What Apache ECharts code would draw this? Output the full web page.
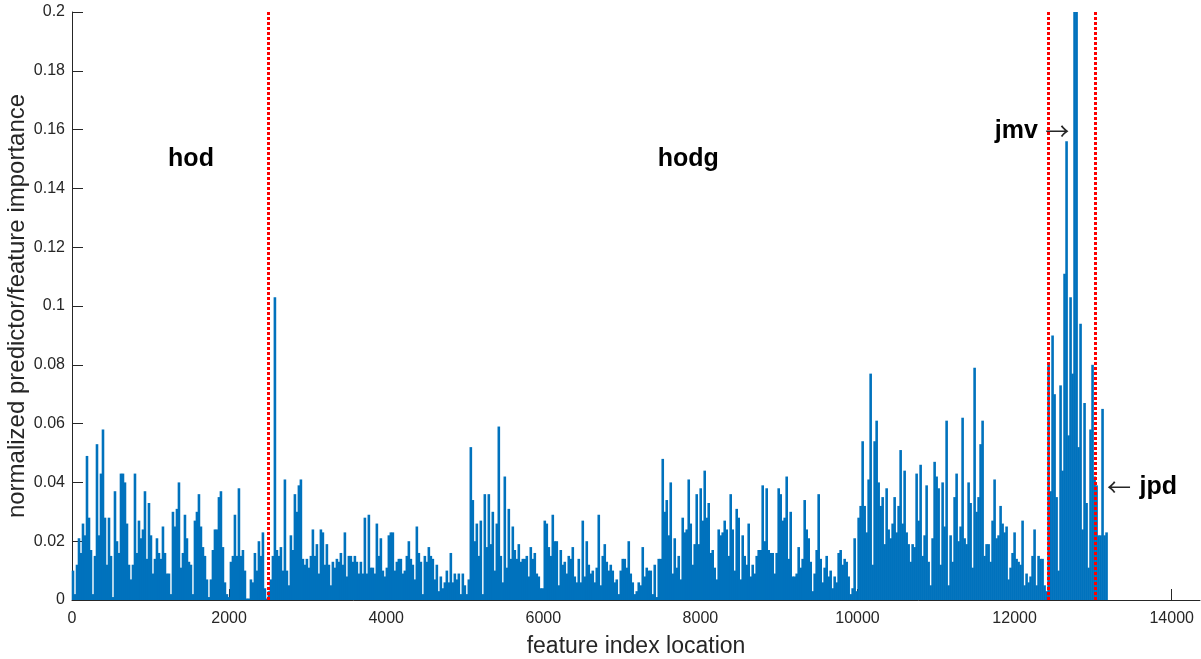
<!DOCTYPE html>
<html>
<head>
<meta charset="utf-8">
<script src="https://cdn.jsdelivr.net/npm/echarts@6/dist/echarts.min.js"></script>
<style>
  html, body { margin: 0; padding: 0; background: #ffffff; }
  #chart { width: 1201px; height: 659px; }
</style>
</head>
<body>
<div id="chart"></div>
<script>
// Each drawn bar stands for a run of BIN_SIZE neighbouring features and shows their peak importance.
const BIN_SIZE = 25.45;

// Peak normalized importance per bar, in thousandths, grouped by feature block.
const hodImportance = [
  10, 2, 12, 21, 16, 26, 22, 49, 28, 17,  2, 15, 53, 22, 43, 58, 28, 12, 28, 15,
   1, 37, 20, 16, 43, 43, 40, 26, 12,  7, 12, 43, 16, 27, 21, 24, 37, 14, 33, 22,
   9, 14, 21, 16, 14, 25, 16,  9,
   9,  2, 30, 25, 31, 40, 11, 16, 29, 21, 13, 12,  2, 27, 30, 36, 25, 18, 15,  7,
   1,  7, 17, 24, 24, 35, 37, 18,  6,  2,  1, 13, 15, 29, 15, 38, 15, 17, 10, 0.5,
 0.5,  7,  6, 16, 10, 20, 15, 23,  4,  0.5
];
const hodgImportance = [
   3,  7, 15, 103, 17, 15, 18, 10, 41, 10,  5, 22, 17, 36, 30, 39, 41, 14, 12, 14,
  11, 15, 24, 15, 19,  9, 24, 23, 12, 19, 12,  5, 13, 11, 14, 13, 16, 12, 23,  8,
  15, 15, 13, 15, 13,  9, 13,  9, 28,  9,
  29, 11, 11,  9, 26, 15, 21, 10,  8, 11, 22, 23, 23, 10, 13, 14, 14,  9, 10, 15,
  20, 14, 12,  7, 25, 16, 13,  2, 15, 13, 18, 15, 14,  7, 12,  3,  8,  4,  6, 10,
   6, 16,  6,  9,  7,  9,  2,  9,  5,  2,
   7, 52, 34, 20, 26, 15, 27,  2, 36, 18, 36, 19, 30, 10, 26, 59, 15,  6, 42, 11,
  31, 14, 25, 17, 14, 19, 13, 14, 14, 15,  8, 18, 14, 16,  9,  8,  4,  4, 27, 26,
  18, 15, 29, 20, 20,  5, 17, 12, 13,  9,
  15, 14, 18,  8,  6, 14,  6, 27,  8, 20, 12,  9, 10,  6, 11, 29,  5, 15, 19, 13,
  10, 12, 10,  6,  7,  2, 10, 14, 14, 11, 20,  9,  6,  2,  3,  6,  5, 18,  8, 11,
  10, 10,  2, 12,  1, 14, 14, 48, 30, 34,
  22, 40,  9, 21, 11, 15,  7, 28, 23, 24, 41, 26, 12, 19, 36, 19, 38, 27, 44, 28,
  33, 16, 17, 11,  7, 24, 22, 23, 27, 24, 15, 36, 24, 10, 31, 28,  7, 22, 15, 12,
  26,  8, 12,  9, 15, 17, 17, 39, 20, 38,
  17, 16, 16,  9, 16, 38, 36, 27, 28, 42, 14, 30,  8,  8,  9, 18, 11, 14, 34, 24,
  21, 13,  3,  9, 17, 36, 14,  6, 11, 15,  8, 10,  4,  8,  6, 16, 17, 12, 14, 13,
   8,  2,  4, 21,  3, 28, 32, 54, 32, 23,
  41, 77, 12, 54, 61, 40, 32, 35, 19, 38, 24, 21, 26, 35, 23, 32, 51, 26, 44, 23,
  19, 13, 19, 18, 43, 27, 46, 15, 22, 39, 13,  5, 21, 47, 42, 38, 12, 40, 25, 61,
   5, 22, 13, 35, 43, 20, 25, 62, 21, 19,
  40, 33, 11, 79, 30, 35, 53, 61, 15, 19, 19, 13, 27, 41, 21, 22, 32, 26, 23, 25,
   7, 11, 16, 23, 14, 13, 12, 27,  5,  9,  6,  8, 15, 24,  5, 15, 14, 14,  5,  3
];
const jmvImportance = [
  80, 37, 90, 70, 35, 10, 73, 44, 111, 156, 56, 103, 77, 210, 210, 52, 94, 24, 67, 33,
  11, 58, 80, 42
];
const jpdImportance = [39, 22, 22, 65, 22, 23];

// Feature indices where one descriptor block ends and the next begins.
const blockBoundaries = [2495, 12422, 13027];

// Tick positions.
const xTicks = [0, 2000, 4000, 6000, 8000, 10000, 12000, 14000];
const yTicks = [0, 0.02, 0.04, 0.06, 0.08, 0.1, 0.12, 0.14, 0.16, 0.18, 0.2];

const allImportance = [].concat(hodImportance, hodgImportance, jmvImportance, jpdImportance);
const barData = allImportance.map((v, i) => [(i + 0.5) * BIN_SIZE, v / 1000]);

const FONT = '"Liberation Sans", Arial, Helvetica, sans-serif';
const ARROW_FONT = '"Noto Sans CJK SC", "DejaVu Sans", sans-serif';
const AXIS_COLOR = '#262626';

const chart = echarts.init(document.getElementById('chart'), null, { renderer: 'canvas' });

const option = {
  animation: false,
  backgroundColor: '#ffffff',
  grid: { left: 72, right: 1, top: 12, bottom: 59, containLabel: false, outerBoundsMode: 'none' },
  xAxis: {
    type: 'value',
    min: 0,
    max: 14360,
    interval: 2000,
    name: 'feature index location',
    nameLocation: 'middle',
    nameGap: 35,
    nameTextStyle: { fontFamily: FONT, fontSize: 23, color: AXIS_COLOR },
    axisLine: { show: true, onZero: false, lineStyle: { color: AXIS_COLOR, width: 1 } },
    axisTick: { show: true, inside: true, length: 11, customValues: xTicks, lineStyle: { color: AXIS_COLOR } },
    axisLabel: {
      customValues: xTicks,
      margin: 11,
      fontFamily: FONT, fontSize: 16, color: AXIS_COLOR,
      formatter: v => String(v)
    },
    splitLine: { show: false }
  },
  yAxis: {
    type: 'value',
    min: 0,
    max: 0.2,
    interval: 0.02,
    name: 'normalized predictor/feature importance',
    nameLocation: 'middle',
    nameGap: 43,
    nameMoveOverlap: false,
    nameTextStyle: { fontFamily: FONT, fontSize: 24, color: AXIS_COLOR },
    axisLine: { show: true, lineStyle: { color: AXIS_COLOR, width: 1 } },
    axisTick: { show: true, inside: true, length: 11, customValues: yTicks, lineStyle: { color: AXIS_COLOR } },
    axisLabel: {
      customValues: yTicks,
      margin: 7,
      fontFamily: FONT, fontSize: 16, color: AXIS_COLOR,
      formatter: v => String(v)
    },
    splitLine: { show: false }
  },
  series: [{
    type: 'bar',
    data: barData,
    barMinWidth: 2.6,
    clip: true,
    itemStyle: { color: '#0072BD' },
    emphasis: { disabled: true },
    markLine: {
      silent: true,
      symbol: 'none',
      label: { show: false },
      lineStyle: { color: '#FF0000', width: 3, type: [3, 2] },
      data: blockBoundaries.map(b => ({ xAxis: b }))
    }
  }]
};

chart.setOption(option);

// Block names placed in data space.
const toPx = (x, y) => chart.convertToPixel({ gridIndex: 0 }, [x, y]);
const boldText = (text, x, y, align) => {
  const p = toPx(x, y);
  return {
    type: 'text', x: p[0], y: p[1], silent: true,
    style: { text, fontFamily: FONT, fontSize: 25, fontWeight: 'bold', fill: '#000000', align, verticalAlign: 'middle' }
  };
};
const arrowText = (text, x, y) => {
  const p = toPx(x, y);
  return {
    type: 'text', x: p[0], y: p[1], silent: true,
    style: { text, fontFamily: ARROW_FONT, fontSize: 24, fontWeight: 'normal', fill: '#262626', align: 'left', verticalAlign: 'middle' }
  };
};

chart.setOption({
  graphic: [
    boldText('hod', 1515, 0.150, 'center'),
    boldText('hodg', 7846, 0.150, 'center'),
    boldText('jmv', 12295, 0.1595, 'right'),
    arrowText('\u2192', 12390, 0.1595),
    arrowText('\u2190', 13175, 0.0385),
    boldText('jpd', 13590, 0.0385, 'left')
  ]
});
</script>
</body>
</html>
